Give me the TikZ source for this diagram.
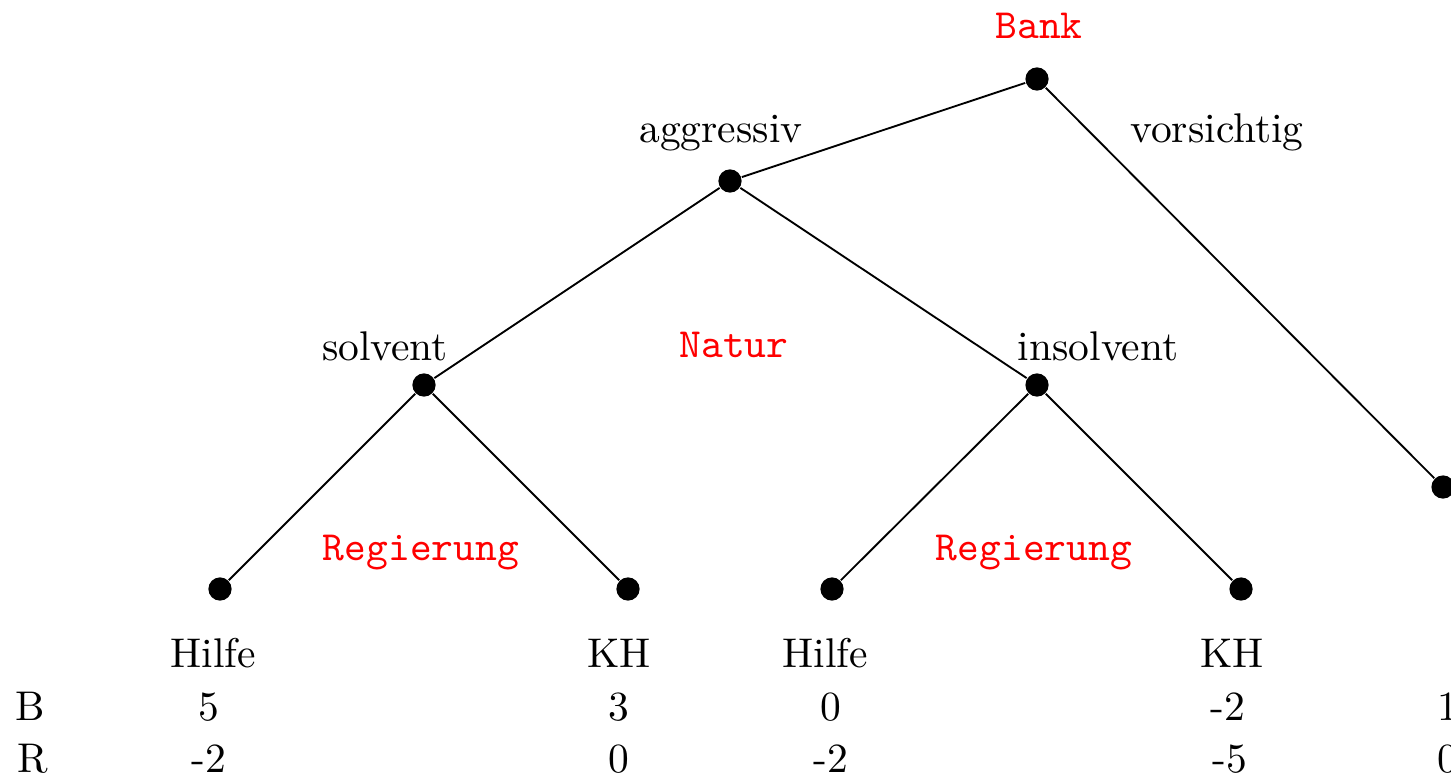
\documentclass[tikz,border=0pt]{standalone}
\begin{document}
\begin{tikzpicture}[x=0.00847cm, y=-0.00847cm,
  dot/.style={circle, fill=black, inner sep=0pt, minimum size=5.6pt},
  txt/.style={anchor=base, inner sep=0pt},
  player/.style={txt, text=red, font=\ttfamily},
  edge/.style={draw=black, line width=0.45pt}]
\useasboundingbox (0,0) rectangle (1451,776);
\clip (0,0) rectangle (1451,776);

% decision and chance nodes
\node[dot] (root) at (1037,79) {};
\node[dot] (agg)  at (730,181) {};
\node[dot] (vor)  at (1443,487) {};
\node[dot] (sol)  at (424,385) {};
\node[dot] (ins)  at (1037,385) {};
\node[dot] (l1)   at (220,589) {};
\node[dot] (l2)   at (628,589) {};
\node[dot] (l3)   at (832,589) {};
\node[dot] (l4)   at (1241,589) {};

% branches
\draw[edge] (root) -- (agg);
\draw[edge] (root) -- (vor);
\draw[edge] (agg) -- (sol);
\draw[edge] (agg) -- (ins);
\draw[edge] (sol) -- (l1);
\draw[edge] (sol) -- (l2);
\draw[edge] (ins) -- (l3);
\draw[edge] (ins) -- (l4);

% players
\node[player] (pBank) at (1039,38) {Bank};
\node[player] (pNatur) at (734,357) {Natur};
\node[player] (pReg1) at (421,560) {Regierung};
\node[player] (pReg2) at (1034,560) {Regierung};

% actions
\node[txt] (aAgg) at (721,142) {aggressiv};
\node[txt] (aVor) at (1217,142) {vorsichtig};
\node[txt] (aSol) at (385,360) {solvent};
\node[txt] (aIns) at (1098,360) {insolvent};
\node[txt] (aH1) at (213,667) {Hilfe};
\node[txt] (aK1) at (619,667) {KH};
\node[txt] (aH2) at (825,667) {Hilfe};
\node[txt] (aK2) at (1232,667) {KH};

% payoffs
\node[txt] (rowB) at (30,720) {B};
\node[txt] (rowR) at (33,772) {R};
\node[txt] (b1) at (209,720) {5};
\node[txt] (b2) at (619,720) {3};
\node[txt] (b3) at (831,720) {0};
\node[txt] (b4) at (1228,720) {-2};
\node[txt] (b5) at (1448,720) {1};
\node[txt] (r1) at (209,772) {-2};
\node[txt] (r2) at (619,772) {0};
\node[txt] (r3) at (831,772) {-2};
\node[txt] (r4) at (1230,772) {-5};
\node[txt] (r5) at (1448,772) {0};
\end{tikzpicture}
\end{document}
